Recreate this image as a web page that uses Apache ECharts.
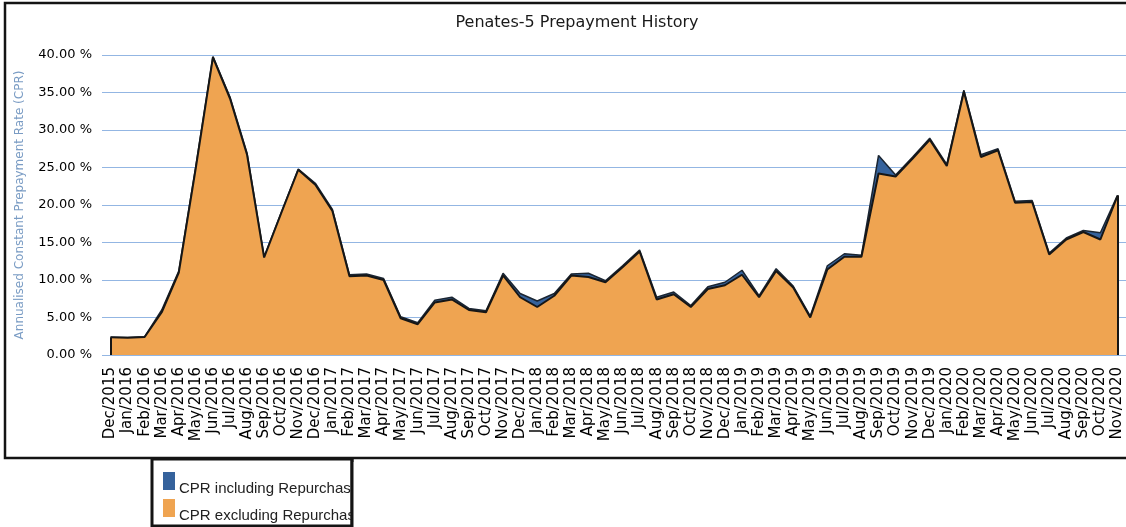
<!DOCTYPE html>
<html><head><meta charset="utf-8">
<script src="https://cdn.jsdelivr.net/npm/echarts@6/dist/echarts.min.js"></script>
<style>html,body{margin:0;padding:0;background:#fff}#c{width:1126px;height:527px}</style>
</head><body><div id="c"></div><script>
const chartTitle = 'Penates-5 Prepayment History';
const yAxisName = 'Annualised Constant Prepayment Rate (CPR)';
const seriesNames = ['CPR including Repurchases', 'CPR excluding Repurchases'];
const months = [
  'Dec/2015',
  'Jan/2016','Feb/2016','Mar/2016','Apr/2016','May/2016','Jun/2016','Jul/2016','Aug/2016','Sep/2016','Oct/2016','Nov/2016','Dec/2016',
  'Jan/2017','Feb/2017','Mar/2017','Apr/2017','May/2017','Jun/2017','Jul/2017','Aug/2017','Sep/2017','Oct/2017','Nov/2017','Dec/2017',
  'Jan/2018','Feb/2018','Mar/2018','Apr/2018','May/2018','Jun/2018','Jul/2018','Aug/2018','Sep/2018','Oct/2018','Nov/2018','Dec/2018',
  'Jan/2019','Feb/2019','Mar/2019','Apr/2019','May/2019','Jun/2019','Jul/2019','Aug/2019','Sep/2019','Oct/2019','Nov/2019','Dec/2019',
  'Jan/2020','Feb/2020','Mar/2020','Apr/2020','May/2020','Jun/2020','Jul/2020','Aug/2020','Sep/2020','Oct/2020','Nov/2020'
];
const cprIncluding = [
  2.4, 2.35, 2.45, 6.0, 11.2, 25.2, 39.8, 34.4, 26.9, 13.1, 19.0, 24.8, 22.9,
  19.4, 10.7, 10.8, 10.2, 5.1, 4.3, 7.3, 7.7, 6.2, 5.9, 10.9, 8.2,
  7.2, 8.2, 10.8, 10.9, 9.9, 11.9, 14.0, 7.7, 8.4, 6.6, 9.1, 9.7,
  11.3, 7.9, 11.5, 9.2, 5.2, 11.9, 13.5, 13.3, 26.6, 24.0, 26.4, 28.9,
  25.4, 35.3, 26.7, 27.5, 20.5, 20.6, 13.6, 15.6, 16.6, 16.3, 21.3
];
const cprExcluding = [
  2.35, 2.3, 2.4, 5.7, 11.0, 25.0, 39.7, 34.2, 26.7, 13.0, 18.9, 24.7, 22.7,
  19.2, 10.5, 10.6, 10.0, 4.9, 4.1, 7.0, 7.4, 6.0, 5.7, 10.6, 7.7,
  6.4, 7.9, 10.6, 10.4, 9.7, 11.7, 13.8, 7.4, 8.1, 6.4, 8.8, 9.3,
  10.7, 7.7, 11.2, 9.0, 5.0, 11.4, 13.1, 13.1, 24.2, 23.8, 26.2, 28.7,
  25.2, 35.1, 26.4, 27.3, 20.3, 20.4, 13.4, 15.4, 16.4, 15.4, 21.2
];
const yTicks = { min: 0, max: 40, interval: 5 };

const last = months.length - 1;
const chart = echarts.init(document.getElementById('c'), null, { renderer: 'canvas' });
chart.setOption({
  animation: false,
  backgroundColor: '#ffffff',
  title: {
    text: chartTitle, left: 572, top: 10, textAlign: 'center',
    textStyle: { fontFamily: 'DejaVu Sans', fontSize: 16, fontWeight: 'normal', color: '#1a1a1a' }
  },
  grid: { left: 102, right: 0, top: 55, bottom: 172 },
  xAxis: {
    type: 'category', data: months, boundaryGap: true,
    axisLine: { show: false }, axisTick: { show: false },
    axisLabel: { rotate: 90, interval: 0, margin: 12, fontFamily: 'DejaVu Sans', fontSize: 15, color: '#000' },
    splitLine: { show: false }
  },
  yAxis: {
    type: 'value', min: yTicks.min, max: yTicks.max, interval: yTicks.interval,
    name: yAxisName, nameLocation: 'middle', nameGap: 76, nameRotate: 90,
    nameTextStyle: { fontFamily: 'DejaVu Sans', fontSize: 12, color: '#7a9cc4' },
    axisLine: { show: false }, axisTick: { show: false },
    axisLabel: { margin: 10, fontFamily: 'DejaVu Sans', fontSize: 13, color: '#000',
      formatter: v => v.toFixed(2) + ' %' },
    splitLine: { lineStyle: { color: '#93b6e3', width: 1.2 } }
  },
  series: [
    {
      name: seriesNames[0], type: 'line', data: cprIncluding, symbol: 'none', z: 2,
      lineStyle: { color: '#1b2633', width: 1.5 },
      areaStyle: { color: '#35629c', opacity: 1 }
    },
    {
      name: seriesNames[1], type: 'line', data: cprExcluding, symbol: 'none', z: 3,
      lineStyle: { color: '#161616', width: 2 },
      areaStyle: { color: '#efa451', opacity: 1 },
      markLine: {
        silent: true, symbol: 'none', label: { show: false },
        lineStyle: { color: '#161616', width: 2, type: 'solid' },
        data: [
          [{ coord: [months[0], 0] }, { coord: [months[0], cprExcluding[0]] }],
          [{ coord: [months[last], 0] }, { coord: [months[last], cprIncluding[last]] }]
        ]
      }
    }
  ],
  graphic: [
    { type: 'rect', shape: { x: 5, y: 3, width: 1140, height: 455 },
      style: { fill: 'none', stroke: '#141414', lineWidth: 2.5 }, z: 10 },
    { type: 'rect', shape: { x: 152, y: 459, width: 200, height: 67 },
      style: { fill: '#fff', stroke: '#141414', lineWidth: 3 }, z: 10 },
    { type: 'rect', shape: { x: 163, y: 472, width: 12, height: 18 },
      style: { fill: '#35629c' }, z: 11 },
    { type: 'text', x: 179, y: 489, z: 11,
      style: { text: seriesNames[0], font: '15px "Liberation Sans", Arial', fill: '#222',
        verticalAlign: 'middle', width: 175, overflow: 'truncate', ellipsis: '' } },
    { type: 'rect', shape: { x: 163, y: 499, width: 12, height: 18 },
      style: { fill: '#efa451' }, z: 11 },
    { type: 'text', x: 179, y: 516, z: 11,
      style: { text: seriesNames[1], font: '15px "Liberation Sans", Arial', fill: '#222',
        verticalAlign: 'middle', width: 180, overflow: 'truncate', ellipsis: '' } },
    { type: 'rect', shape: { x: 352, y: 462, width: 30, height: 65 },
      style: { fill: '#fff' }, z: 12 },
    { type: 'line', shape: { x1: 352, y1: 458, x2: 352, y2: 527 },
      style: { stroke: '#141414', lineWidth: 3 }, z: 13 }
  ]
});
</script></body></html>
